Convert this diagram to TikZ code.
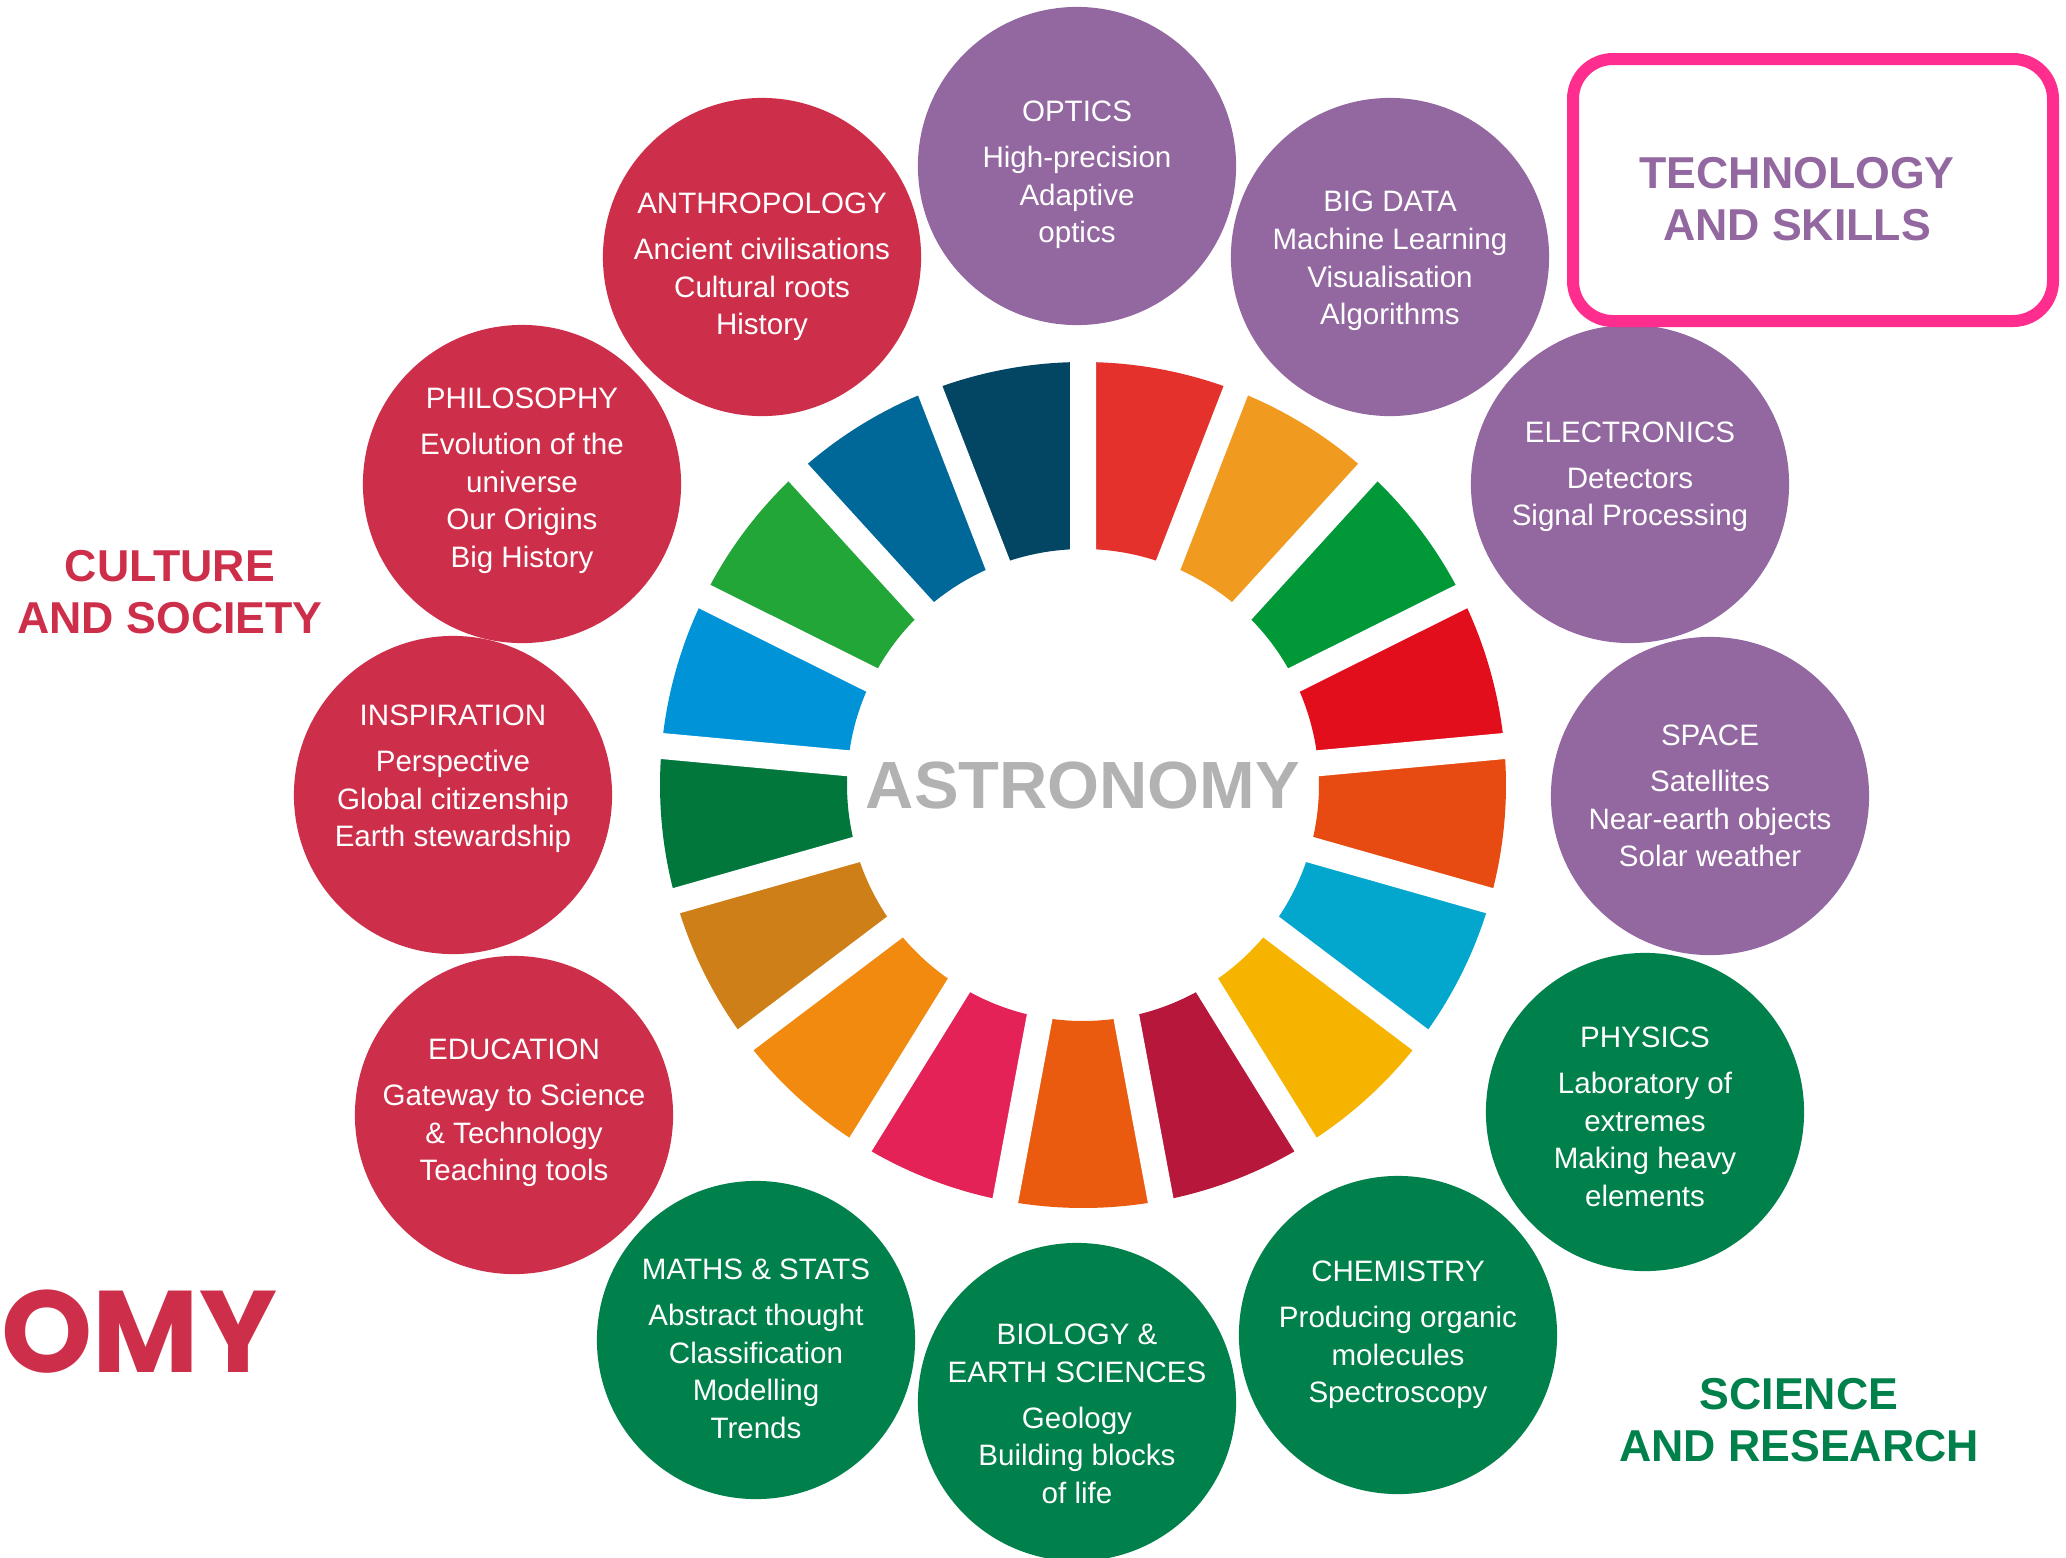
\documentclass[tikz,border=0pt]{standalone}
\usepackage{fontspec}
\setmainfont{Liberation Sans}
\newfontfamily\omyfont{Poppins}

\definecolor{culture}{HTML}{CD2E4A}
\definecolor{techno}{HTML}{93679F}
\definecolor{science}{HTML}{00804A}
\definecolor{chalk}{HTML}{FF2E8E}
\definecolor{astro}{HTML}{B2B2B2}
\definecolor{sdgA}{HTML}{E4312B}
\definecolor{sdgB}{HTML}{F09B1F}
\definecolor{sdgC}{HTML}{019838}
\definecolor{sdgD}{HTML}{E20E1C}
\definecolor{sdgE}{HTML}{E84B12}
\definecolor{sdgF}{HTML}{03A7CD}
\definecolor{sdgG}{HTML}{F6B300}
\definecolor{sdgH}{HTML}{B6173B}
\definecolor{sdgI}{HTML}{EA5B10}
\definecolor{sdgJ}{HTML}{E42257}
\definecolor{sdgK}{HTML}{F18A0F}
\definecolor{sdgL}{HTML}{CE7F18}
\definecolor{sdgM}{HTML}{01773C}
\definecolor{sdgN}{HTML}{0093D8}
\definecolor{sdgO}{HTML}{22A638}
\definecolor{sdgP}{HTML}{006899}
\definecolor{sdgQ}{HTML}{024663}

\begin{document}
\begin{tikzpicture}[x=0.01cm, y=-0.01cm,
    topic/.style={circle, minimum size=3.18cm, inner sep=0pt},
    topictext/.style={text=white, align=center, inner sep=0pt, font=\fontsize{8.4}{10.7}\selectfont},
    group/.style={align=center, inner sep=0pt, font=\fontsize{12.7}{15}\selectfont\bfseries}]
    \useasboundingbox (0,0) rectangle (2066,1557);

    % wheel
    \begin{scope}[shift={(1083,785)}]
    \fill[sdgA] (-90:423) arc (-90:-68.82:423) -- (-68.82:236) arc (-68.82:-90:236) -- cycle; %1
    \fill[sdgB] (-68.82:423) arc (-68.82:-47.65:423) -- (-47.65:236) arc (-47.65:-68.82:236) -- cycle; %2
    \fill[sdgC] (-47.65:423) arc (-47.65:-26.47:423) -- (-26.47:236) arc (-26.47:-47.65:236) -- cycle; %3
    \fill[sdgD] (-26.47:423) arc (-26.47:-5.29:423) -- (-5.29:236) arc (-5.29:-26.47:236) -- cycle; %4
    \fill[sdgE] (-5.29:423) arc (-5.29:15.88:423) -- (15.88:236) arc (15.88:-5.29:236) -- cycle; %5
    \fill[sdgF] (15.88:423) arc (15.88:37.06:423) -- (37.06:236) arc (37.06:15.88:236) -- cycle; %6
    \fill[sdgG] (37.06:423) arc (37.06:58.24:423) -- (58.24:236) arc (58.24:37.06:236) -- cycle; %7
    \fill[sdgH] (58.24:423) arc (58.24:79.41:423) -- (79.41:236) arc (79.41:58.24:236) -- cycle; %8
    \fill[sdgI] (79.41:423) arc (79.41:100.59:423) -- (100.59:236) arc (100.59:79.41:236) -- cycle; %9
    \fill[sdgJ] (100.59:423) arc (100.59:121.76:423) -- (121.76:236) arc (121.76:100.59:236) -- cycle; %10
    \fill[sdgK] (121.76:423) arc (121.76:142.94:423) -- (142.94:236) arc (142.94:121.76:236) -- cycle; %11
    \fill[sdgL] (142.94:423) arc (142.94:164.12:423) -- (164.12:236) arc (164.12:142.94:236) -- cycle; %12
    \fill[sdgM] (164.12:423) arc (164.12:185.29:423) -- (185.29:236) arc (185.29:164.12:236) -- cycle; %13
    \fill[sdgN] (185.29:423) arc (185.29:206.47:423) -- (206.47:236) arc (206.47:185.29:236) -- cycle; %14
    \fill[sdgO] (206.47:423) arc (206.47:227.65:423) -- (227.65:236) arc (227.65:206.47:236) -- cycle; %15
    \fill[sdgP] (227.65:423) arc (227.65:248.82:423) -- (248.82:236) arc (248.82:227.65:236) -- cycle; %16
    \fill[sdgQ] (248.82:423) arc (248.82:270:423) -- (270:236) arc (270:248.82:236) -- cycle; %17
    % gaps
    \draw[white, line width=0.26cm] (-90:220) -- (-90:440) (-68.82:220) -- (-68.82:440)
        (-47.65:220) -- (-47.65:440) (-26.47:220) -- (-26.47:440) (-5.29:220) -- (-5.29:440)
        (15.88:220) -- (15.88:440) (37.06:220) -- (37.06:440) (58.24:220) -- (58.24:440)
        (79.41:220) -- (79.41:440) (100.59:220) -- (100.59:440) (121.76:220) -- (121.76:440)
        (142.94:220) -- (142.94:440) (164.12:220) -- (164.12:440) (185.29:220) -- (185.29:440)
        (206.47:220) -- (206.47:440) (227.65:220) -- (227.65:440) (248.82:220) -- (248.82:440);
    \end{scope}
    \node[text=astro, inner sep=0pt, font=\fontsize{19}{19}\selectfont\bfseries] (astro) at (1083,785) {ASTRONOMY};

    % technology and skills
    \node[topic, fill=techno] (optics) at (1077,166) {};
    \node[topictext] (optics-t) at (1077,175) {OPTICS\\[2.3pt]High-precision\\Adaptive\\optics};
    \node[topic, fill=techno] (bigdata) at (1390,257) {};
    \node[topictext] (bigdata-t) at (1390,261) {BIG DATA\\Machine Learning\\Visualisation\\Algorithms};
    \node[topic, fill=techno] (electronics) at (1630,484) {};
    \node[topictext] (electronics-t) at (1630,477) {ELECTRONICS\\[2.3pt]Detectors\\Signal Processing};
    \node[topic, fill=techno] (space) at (1710,796) {};
    \node[topictext] (space-t) at (1710,796) {SPACE\\[2.3pt]Satellites\\Near-earth objects\\Solar weather};

    % science and research
    \node[topic, fill=science] (physics) at (1645,1112) {};
    \node[topictext] (physics-t) at (1645,1117) {PHYSICS\\[2.3pt]Laboratory of\\extremes\\Making heavy\\elements};
    \node[topic, fill=science] (chemistry) at (1398,1335) {};
    \node[topictext] (chemistry-t) at (1398,1335) {CHEMISTRY\\[2.3pt]Producing organic\\molecules\\Spectroscopy};
    \node[topic, fill=science] (biology) at (1077,1402) {};
    \node[topictext] (biology-t) at (1077,1414) {BIOLOGY \&\\EARTH SCIENCES\\[2.3pt]Geology\\Building blocks\\of life};
    \node[topic, fill=science] (maths) at (756,1340) {};
    \node[topictext] (maths-t) at (756,1349) {MATHS \& STATS\\[2.3pt]Abstract thought\\Classification\\Modelling\\Trends};

    % culture and society
    \node[topic, fill=culture] (education) at (514,1115) {};
    \node[topictext] (education-t) at (514,1113) {EDUCATION\\[2.3pt]Gateway to Science\\\& Technology\\Teaching tools};
    \node[topic, fill=culture] (inspiration) at (453,795) {};
    \node[topictext] (inspiration-t) at (453,779) {INSPIRATION\\[2.3pt]Perspective\\Global citizenship\\Earth stewardship};
    \node[topic, fill=culture] (philosophy) at (522,484) {};
    \node[topictext] (philosophy-t) at (522,481) {PHILOSOPHY\\[2.3pt]Evolution of the\\universe\\Our Origins\\Big History};
    \node[topic, fill=culture] (anthropology) at (762,257) {};
    \node[topictext] (anthropology-t) at (762,267) {ANTHROPOLOGY\\[2.3pt]Ancient civilisations\\Cultural roots\\History};

    % group labels
    \draw[chalk, line width=0.12cm, rounded corners=0.4cm] (1573,59) rectangle (2053,321);
    \node[group, text=techno] (techlbl) at (1797,199) {TECHNOLOGY\\AND SKILLS};
    \node[group, text=culture] (culturelbl) at (170,592) {CULTURE\\AND SOCIETY};
    \node[group, text=science] (sciencelbl) at (1799,1420) {SCIENCE\\AND RESEARCH};
    \node[anchor=base east, inner sep=0pt, text=culture, font=\omyfont\fontsize{33}{33}\selectfont\bfseries] (omy) at (278,1372) {OMY};
\end{tikzpicture}
\end{document}
